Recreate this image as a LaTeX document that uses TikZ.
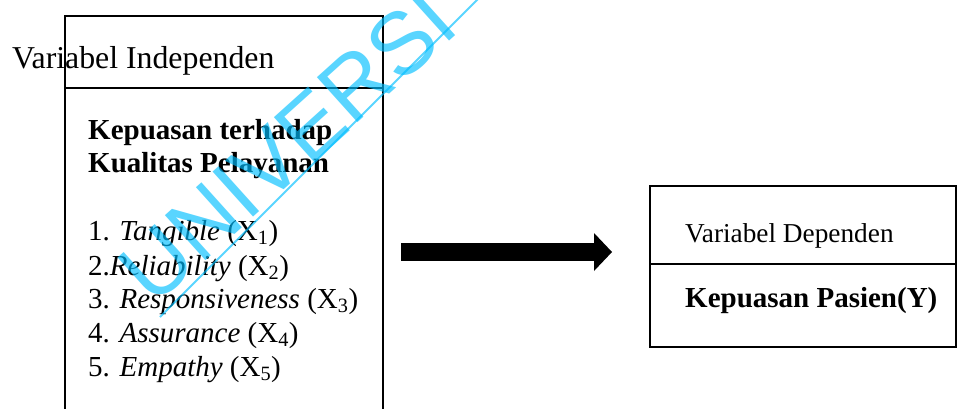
\documentclass[tikz,border=0pt]{standalone}
\usepackage{fontspec}
\setmainfont{Liberation Serif}
\newfontfamily\wmfont{Liberation Sans}
\usetikzlibrary{arrows.meta}
\definecolor{wmcyan}{RGB}{0,190,255}
\begin{document}
\begin{tikzpicture}[x=1pt,y=-1pt,
  box/.style={draw, line width=1.5pt, inner sep=0pt},
  rule/.style={line width=1.5pt},
  txt/.style={anchor=base west, inner sep=0pt},
  bighead/.style={font=\fontsize{31.8}{36}\selectfont},
  smallhead/.style={font=\fontsize{27.3}{32}\selectfont},
  body/.style={font=\fontsize{29}{34}\selectfont},
  wmstyle/.style={text=wmcyan, opacity=0.65}]
\clip (0,0) rectangle (964,408);

% independent variable box (runs past the lower edge)
\node[box, anchor=north west, minimum width=318pt, minimum height=420pt] (lbox) at (64,15) {};
\coordinate (ldivy) at (0,88);
\draw[rule] (lbox.west |- ldivy) -- (lbox.east |- ldivy);
\node[txt, bighead] (lhead) at (12,68) {Variabel Independen};
\node[txt, body] (l1) at (88,139) {\textbf{Kepuasan terhadap}};
\node[txt, body] (l2) at (88,172) {\textbf{Kualitas Pelayanan}};
\node[txt, body] (x1) at (88,240) {1. \textit{Tangible} (X\textsubscript{1})};
\node[txt, body] (x2) at (88,275) {2.\textit{Reliability} (X\textsubscript{2})};
\node[txt, body] (x3) at (88,308) {3. \textit{Responsiveness} (X\textsubscript{3})};
\node[txt, body] (x4) at (88,342) {4. \textit{Assurance} (X\textsubscript{4})};
\node[txt, body] (x5) at (88,376) {5. \textit{Empathy} (X\textsubscript{5})};

% dependent variable box
\node[box, anchor=north west, minimum width=306pt, minimum height=161pt] (rbox) at (649,185) {};
\coordinate (rdivy) at (0,264);
\draw[rule] (rbox.west |- rdivy) -- (rbox.east |- rdivy);
\node[txt, smallhead] (rhead) at (685,242) {Variabel Dependen};
\node[txt, body] (y) at (685,307) {\textbf{Kepuasan Pasien(Y)}};

% influence arrow
\coordinate (aS) at (401,252);
\coordinate (aE) at (612,252);
\draw[line width=18pt, -{Triangle[length=18pt,width=38pt,line width=0pt]}] (aS) -- (aE);

% watermark
\node[txt, wmstyle, rotate=42, font=\wmfont\fontsize{88}{88}\selectfont] (wm) at (153,308) {UNIVERSI};
\coordinate (wmA) at (160,317);
\coordinate (wmB) at (490,-13);
\draw[wmcyan, opacity=0.65, line width=2pt] (wmA) -- (wmB);
\end{tikzpicture}
\end{document}
